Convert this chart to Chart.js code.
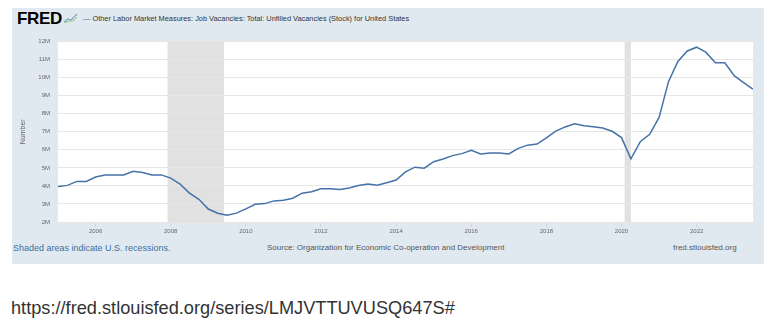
<!DOCTYPE html>
<html>
<head>
<meta charset="utf-8">
<script src="https://cdn.jsdelivr.net/npm/chart.js@4"></script>
<style>
  html, body { margin: 0; padding: 0; background: #ffffff; }
  body { width: 775px; height: 323px; position: relative; overflow: hidden; font-family: "Liberation Sans", Arial, sans-serif; }
  #panel { position: absolute; left: 12px; top: 8px; width: 752px; height: 256px; background: #e1e9f0; }
  #logo { position: absolute; left: 17px; top: 10px; font-size: 17px; font-weight: bold; color: #000; letter-spacing: -0.3px; line-height: 18px; }
  #icon { position: absolute; left: 64px; top: 13px; }
  #title { position: absolute; left: 83px; top: 14px; font-size: 7.4px; line-height: 10px; color: #333; white-space: nowrap; }
  #title .dash { color: #4572a7; }
  #wrap { position: absolute; left: 12px; top: 30px; width: 752px; height: 210px; }
  .foot { position: absolute; top: 243px; font-size: 8px; line-height: 10px; white-space: nowrap; }
  #shaded { left: 13px; color: #3e6fa0; font-size: 9px; top: 242.5px; }
  #source { left: 267px; color: #555; }
  #site { left: 673px; color: #555; }
  #url { position: absolute; left: 11px; top: 297px; font-size: 18.2px; line-height: 22px; color: #333; white-space: nowrap; }
</style>
</head>
<body>
<div id="panel"></div>
<div id="logo">FRED</div>
<svg id="icon" width="14" height="10" viewBox="0 0 14 10">
  <polyline points="0,9 4,6 7,7 13,1" fill="none" stroke="#7aa5c8" stroke-width="1.2"/>
  <polyline points="0,10 5,8 9,8 13,4" fill="none" stroke="#9cc27a" stroke-width="1"/>
</svg>
<div id="title"><span class="dash">—</span> Other Labor Market Measures: Job Vacancies: Total: Unfilled Vacancies (Stock) for United States</div>
<div id="wrap"><canvas id="c"></canvas></div>
<div class="foot" id="shaded">Shaded areas indicate U.S. recessions.</div>
<div class="foot" id="source">Source: Organization for Economic Co-operation and Development</div>
<div class="foot" id="site">fred.stlouisfed.org</div>
<div id="url">https://fred.stlouisfed.org/series/LMJVTTUVUSQ647S#</div>
<script>
// Quarterly observations (millions of unfilled vacancies)
const quarters = [
  '2005Q1','2005Q2','2005Q3','2005Q4','2006Q1','2006Q2','2006Q3','2006Q4',
  '2007Q1','2007Q2','2007Q3','2007Q4','2008Q1','2008Q2','2008Q3','2008Q4',
  '2009Q1','2009Q2','2009Q3','2009Q4','2010Q1','2010Q2','2010Q3','2010Q4',
  '2011Q1','2011Q2','2011Q3','2011Q4','2012Q1','2012Q2','2012Q3','2012Q4',
  '2013Q1','2013Q2','2013Q3','2013Q4','2014Q1','2014Q2','2014Q3','2014Q4',
  '2015Q1','2015Q2','2015Q3','2015Q4','2016Q1','2016Q2','2016Q3','2016Q4',
  '2017Q1','2017Q2','2017Q3','2017Q4','2018Q1','2018Q2','2018Q3','2018Q4',
  '2019Q1','2019Q2','2019Q3','2019Q4','2020Q1','2020Q2','2020Q3','2020Q4',
  '2021Q1','2021Q2','2021Q3','2021Q4','2022Q1','2022Q2','2022Q3','2022Q4',
  '2023Q1','2023Q2','2023Q3'
];
const vacancies = [
  3.97, 4.03, 4.25, 4.25, 4.49, 4.61, 4.61, 4.61,
  4.81, 4.74, 4.61, 4.61, 4.43, 4.10, 3.60, 3.26,
  2.72, 2.49, 2.37, 2.49, 2.73, 2.98, 3.02, 3.17,
  3.20, 3.32, 3.60, 3.68, 3.84, 3.84, 3.80, 3.89,
  4.02, 4.11, 4.04, 4.18, 4.33, 4.78, 5.04, 4.98,
  5.34, 5.49, 5.68, 5.79, 5.97, 5.77, 5.83, 5.83,
  5.77, 6.08, 6.26, 6.32, 6.66, 7.04, 7.27, 7.45,
  7.33, 7.28, 7.21, 7.03, 6.68, 5.50, 6.45, 6.86,
  7.80, 9.78, 10.90, 11.48, 11.69, 11.40, 10.83, 10.83,
  10.11, 9.73, 9.37
];
const xTickYears = [2006, 2008, 2010, 2012, 2014, 2016, 2018, 2020, 2022];
const yTickValues = [2, 3, 4, 5, 6, 7, 8, 9, 10, 11, 12];
const recessions = [
  ['2007-12', '2009-06'],
  ['2020-02', '2020-04']
];

function quarterToYear(q) {
  const y = parseInt(q.slice(0, 4), 10);
  const n = parseInt(q.slice(5), 10);
  return y + (n - 1) / 4;
}
function monthToYear(m) {
  const y = parseInt(m.slice(0, 4), 10);
  const mo = parseInt(m.slice(5), 10);
  return y + (mo - 1) / 12;
}

const points = quarters.map((q, i) => ({ x: quarterToYear(q), y: vacancies[i] }));

const bgPlugin = {
  id: 'bgAndRecessions',
  beforeDraw(chart) {
    const { ctx, chartArea: a, scales } = chart;
    ctx.save();
    ctx.fillStyle = '#ffffff';
    ctx.fillRect(a.left, a.top, a.right - a.left, a.bottom - a.top);
    ctx.fillStyle = '#e1e1e1';
    recessions.forEach(([s, e]) => {
      let x0 = scales.x.getPixelForValue(monthToYear(s));
      let x1 = scales.x.getPixelForValue(monthToYear(e));
      x0 = Math.max(x0, a.left); x1 = Math.min(x1, a.right);
      ctx.fillRect(x0, a.top, x1 - x0, a.bottom - a.top);
    });
    ctx.restore();
  }
};

const tickFont = { family: '"Liberation Sans", Arial, sans-serif', size: 6 };

new Chart(document.getElementById('c'), {
  type: 'line',
  data: {
    datasets: [{
      data: points,
      borderColor: '#4572a7',
      borderWidth: 1.5,
      pointRadius: 0,
      tension: 0,
      fill: false
    }]
  },
  options: {
    responsive: true,
    maintainAspectRatio: false,
    devicePixelRatio: 1,
    animation: false,
    layout: { padding: { top: 7, right: 11, left: 0, bottom: 0 } },
    plugins: { legend: { display: false }, tooltip: { enabled: false } },
    scales: {
      x: {
        type: 'linear',
        min: quarterToYear(quarters[0]),
        max: quarterToYear(quarters[quarters.length - 1]),
        afterBuildTicks: (s) => { s.ticks = xTickYears.map(v => ({ value: v })); },
        afterFit: (s) => { s.height = 18; },
        ticks: {
          color: '#666',
          font: tickFont,
          padding: 1,
          maxRotation: 0,
          autoSkip: false,
          callback: (v) => String(v)
        },
        grid: { drawOnChartArea: false, drawTicks: true, tickLength: 5, color: '#ccd6eb' },
        border: { display: false }
      },
      y: {
        min: 2,
        max: 12,
        afterBuildTicks: (s) => { s.ticks = yTickValues.map(v => ({ value: v })); },
        afterFit: (s) => { s.width = 46; },
        ticks: {
          color: '#666',
          font: tickFont,
          padding: 8,
          callback: (v) => v + 'M'
        },
        title: {
          display: true,
          text: 'Number',
          color: '#666',
          font: { family: '"Liberation Sans", Arial, sans-serif', size: 7 },
          padding: { top: 7, bottom: 0 }
        },
        grid: { color: '#e6e6e6', drawTicks: false },
        border: { display: false }
      }
    }
  },
  plugins: [bgPlugin]
});
</script>
</body>
</html>
